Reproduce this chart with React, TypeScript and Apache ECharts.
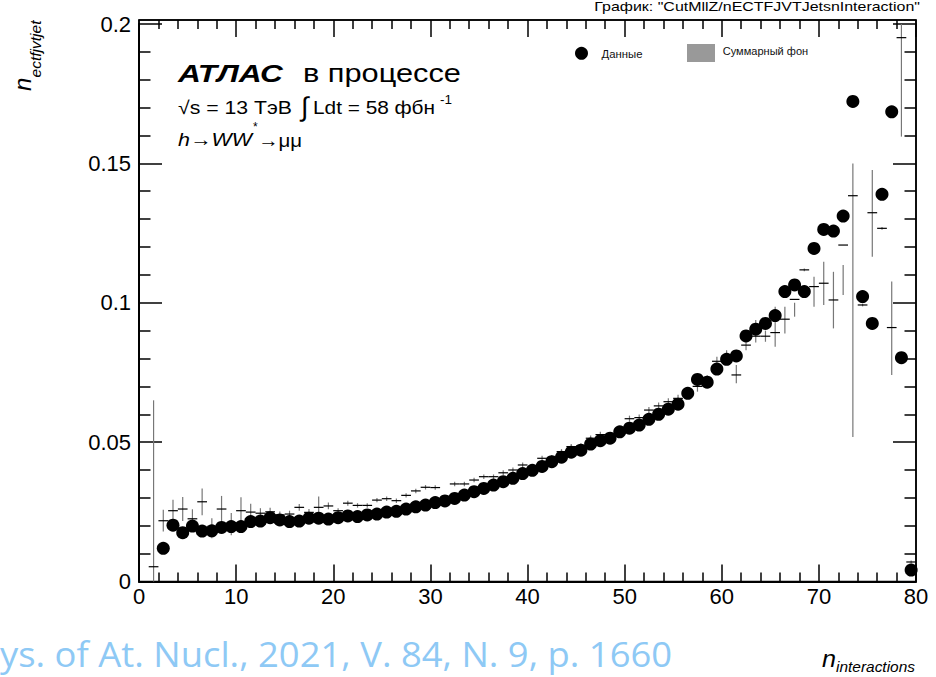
import React, { useEffect, useRef } from "react";
import * as echarts from "echarts";

// Bins: n_interactions from 0 to 80, width 1 (index = lower bin edge)
const X_MIN = 0;
const X_MAX = 80;
const Y_MIN = 0;
const Y_MAX = 0.2;

// Data (black dots)
const dataValues: (number | null)[] = [
  null, null, 0.0119, 0.0202, 0.0175, 0.0199, 0.0181, 0.0182, 0.0194, 0.0197,
  0.0197, 0.0215, 0.0217, 0.0229, 0.0221, 0.0215, 0.0217, 0.0227, 0.0227, 0.0224,
  0.0229, 0.0235, 0.0233, 0.0239, 0.0242, 0.0249, 0.0252, 0.0260, 0.0268, 0.0274,
  0.0283, 0.0289, 0.0298, 0.0310, 0.0322, 0.0334, 0.0346, 0.0358, 0.0370, 0.0387,
  0.0399, 0.0413, 0.0430, 0.0446, 0.0464, 0.0471, 0.0493, 0.0505, 0.0514, 0.0537,
  0.0550, 0.0561, 0.0582, 0.0600, 0.0618, 0.0636, 0.0675, 0.0725, 0.0715, 0.0762,
  0.0797, 0.0809, 0.0881, 0.0905, 0.0926, 0.0954, 0.1040, 0.1064, 0.1040, 0.1195,
  0.1263, 0.1257, 0.1311, 0.1722, 0.1022, 0.0926, 0.1389, 0.1685, 0.0803, 0.0041,
];

// Total background (crosses)
const mcValues: (number | null)[] = [
  null, 0.0053, 0.0218, 0.0254, 0.0260, 0.0225, 0.0286, 0.0191, 0.0260, 0.0206,
  0.0254, 0.0249, 0.0245, 0.0250, 0.0239, 0.0242, 0.0266, 0.0248, 0.0266, 0.0271,
  0.0254, 0.0281, 0.0273, 0.0273, 0.0292, 0.0297, 0.0290, 0.0309, 0.0325, 0.0338,
  0.0337, 0.0300, 0.0350, 0.0350, 0.0364, 0.0376, 0.0376, 0.0390, 0.0400, 0.0418,
  0.0405, 0.0442, 0.0445, 0.0466, 0.0484, 0.0486, 0.0514, 0.0527, 0.0525, 0.0545,
  0.0584, 0.0588, 0.0615, 0.0630, 0.0645, 0.0657, 0.0680, 0.0700, 0.0725, 0.0790,
  0.0810, 0.0741, 0.0848, 0.0880, 0.0880, 0.0893, 0.0941, 0.1012, 0.1118, 0.1058,
  0.1070, 0.1010, 0.1207, 0.1384, 0.0992, 0.1323, 0.1267, 0.0911, 0.1951, 0.0070,
];

// Error bar lower bounds
const mcLow: (number | null)[] = [
  null, 0.0, 0.0179, 0.0215, 0.0217, 0.0191, 0.0238, 0.0155, 0.0213, 0.0166,
  0.0206, 0.0219, 0.0232, 0.0232, 0.0227, 0.0230, 0.0254, 0.0236, 0.0227, 0.0259,
  0.0245, 0.0272, 0.0265, 0.0265, 0.0284, 0.0289, 0.0282, 0.0301, 0.0317, 0.0330,
  0.0329, 0.0292, 0.0342, 0.0342, 0.0356, 0.0368, 0.0368, 0.0381, 0.0391, 0.0409,
  0.0396, 0.0433, 0.0436, 0.0457, 0.0475, 0.0476, 0.0504, 0.0517, 0.0515, 0.0535,
  0.0573, 0.0577, 0.0604, 0.0618, 0.0633, 0.0644, 0.0668, 0.0681, 0.0710, 0.0771,
  0.0795, 0.0711, 0.0830, 0.0857, 0.0860, 0.0842, 0.0890, 0.0950, 0.1113, 0.0986,
  0.0992, 0.0908, 0.1028, 0.0518, 0.0987, 0.1165, 0.1262, 0.0741, 0.1596, 0.0065,
];

// Error bar upper bounds
const mcHigh: (number | null)[] = [
  null, 0.0650, 0.0257, 0.0293, 0.0303, 0.0259, 0.0334, 0.0227, 0.0307, 0.0246,
  0.0302, 0.0279, 0.0263, 0.0265, 0.0251, 0.0254, 0.0278, 0.0260, 0.0305, 0.0283,
  0.0263, 0.0290, 0.0281, 0.0281, 0.0300, 0.0305, 0.0298, 0.0317, 0.0333, 0.0346,
  0.0345, 0.0308, 0.0358, 0.0358, 0.0372, 0.0384, 0.0384, 0.0399, 0.0409, 0.0427,
  0.0414, 0.0451, 0.0454, 0.0475, 0.0493, 0.0496, 0.0524, 0.0537, 0.0535, 0.0555,
  0.0595, 0.0599, 0.0626, 0.0642, 0.0657, 0.0670, 0.0692, 0.0711, 0.0740, 0.0806,
  0.0830, 0.0777, 0.0866, 0.0938, 0.0900, 0.0986, 0.0986, 0.1000, 0.1123, 0.1093,
  0.1147, 0.1111, 0.1135, 0.1500, 0.0997, 0.1476, 0.1272, 0.1076, 0.2100, 0.0075,
];

const TITLE = 'График: "CutMllZ/nECTFJVTJetsnInteraction"';
const LEGEND_DATA = "Данные";
const LEGEND_BG = "Суммарный фон";
const WATERMARK = "ys. of At. Nucl., 2021, V. 84, N. 9, p. 1660";

const SANS = '"Liberation Sans", Arial, Helvetica, sans-serif';

let measureCtx: CanvasRenderingContext2D | null = null;
function measure(text: string, size: number, family: string, style = "normal", weight = "normal") {
  if (!measureCtx) measureCtx = document.createElement("canvas").getContext("2d");
  if (!measureCtx) return text.length * size * 0.55;
  measureCtx.font = `${style} ${weight} ${size}px ${family}`;
  return measureCtx.measureText(text).width;
}

type TxtOpt = {
  text: string;
  x: number;
  baseline: number;
  size: number;
  family?: string;
  style?: string;
  weight?: string;
  width?: number;
  color?: string;
  align?: string;
};

function txt(o: TxtOpt) {
  const family = o.family || SANS;
  const style = o.style || "normal";
  const weight = o.weight || "normal";
  let scaleX = 1;
  if (o.width) scaleX = o.width / measure(o.text, o.size, family, style, weight);
  return {
    type: "text",
    x: o.x,
    y: o.baseline - 0.35 * o.size,
    scaleX,
    z: 100,
    silent: true,
    style: {
      text: o.text,
      fontSize: o.size,
      fontFamily: family,
      fontStyle: style,
      fontWeight: weight,
      fill: o.color || "#000",
      align: o.align || "left",
      verticalAlign: "middle",
    },
  };
}

export default function App() {
  const ref = useRef<HTMLDivElement>(null);

  useEffect(() => {
    if (!ref.current) return;
    const chart = echarts.init(ref.current, null, { renderer: "svg" });

    const dotData: number[][] = [];
    dataValues.forEach((v, i) => {
      if (v !== null) dotData.push([i + 0.5, v]);
    });
    const mcData: number[][] = [];
    mcValues.forEach((v, i) => {
      if (v !== null) mcData.push([i + 0.5, v, mcLow[i] as number, mcHigh[i] as number]);
    });

    const tickStyle = { color: "#000", width: 1.5 };
    const lineStyle = { color: "#000", width: 2 };

    const yLabel = (v: number) => {
      const r = Math.round(v / 0.05);
      if (Math.abs(v - r * 0.05) > 1e-7) return "";
      return String(+(r * 0.05).toFixed(2));
    };

    const option: any = {
      animation: false,
      backgroundColor: "#fff",
      grid: [
        { left: 139, right: 20, top: 24, bottom: 95.5 },
        {
          left: 139,
          right: 20,
          top: 20,
          bottom: 95.5,
          show: true,
          borderColor: "#000",
          borderWidth: 1.5,
          backgroundColor: "rgba(0,0,0,0)",
        },
      ],
      xAxis: [
        {
          type: "value",
          gridIndex: 0,
          position: "bottom",
          min: X_MIN,
          max: X_MAX,
          interval: 10,
          axisLine: { show: true, onZero: false, lineStyle },
          axisTick: { show: true, inside: true, length: 17, lineStyle: tickStyle },
          minorTick: { show: true, splitNumber: 5, length: 9, lineStyle: tickStyle },
          axisLabel: { fontSize: 22, color: "#000", fontFamily: SANS, margin: 4 },
          splitLine: { show: false },
        },
        {
          type: "value",
          gridIndex: 1,
          position: "top",
          min: X_MIN,
          max: X_MAX,
          interval: 10,
          axisLine: { show: true, onZero: false, lineStyle: { color: "#000", width: 1.5 } },
          axisTick: { show: true, inside: true, length: 17, lineStyle: tickStyle },
          minorTick: { show: true, splitNumber: 5, length: 9, lineStyle: tickStyle },
          axisLabel: { show: false },
          splitLine: { show: false },
        },
      ],
      yAxis: [
        {
          type: "value",
          gridIndex: 0,
          position: "left",
          min: Y_MIN,
          max: Y_MAX,
          interval: 0.05,
          axisLine: { show: true, onZero: false, lineStyle },
          axisTick: { show: true, inside: true, length: 23, lineStyle: tickStyle },
          minorTick: { show: true, splitNumber: 5, length: 11.5, lineStyle: tickStyle },
          axisLabel: { fontSize: 22, color: "#000", fontFamily: SANS, margin: 8, formatter: yLabel },
          splitLine: { show: false },
        },
        {
          type: "value",
          gridIndex: 0,
          position: "right",
          min: Y_MIN,
          max: Y_MAX,
          interval: 0.05,
          axisLine: { show: true, onZero: false, lineStyle: { color: "#000", width: 1.5 } },
          axisTick: { show: true, inside: true, length: 23, lineStyle: tickStyle },
          minorTick: { show: true, splitNumber: 5, length: 11.5, lineStyle: tickStyle },
          axisLabel: { show: false },
          splitLine: { show: false },
        },
        { type: "value", gridIndex: 1, show: false, min: 0, max: 1 },
      ],
      series: [
        {
          type: "custom",
          name: LEGEND_BG,
          xAxisIndex: 0,
          yAxisIndex: 0,
          data: mcData,
          encode: { x: 0, y: 1 },
          z: 2,
          renderItem: (params: any, api: any) => {
            const x = api.value(0);
            const v = api.value(1);
            const lo = api.value(2);
            const hi = api.value(3);
            const cs = params.coordSys;
            const top = cs.y;
            const bot = cs.y + cs.height;
            const clampY = (y: number) => Math.max(top, Math.min(bot, y));
            const pL = api.coord([x - 0.5, v]);
            const pR = api.coord([x + 0.5, v]);
            const pLo = api.coord([x, lo]);
            const pHi = api.coord([x, hi]);
            const children: any[] = [
              {
                type: "line",
                shape: { x1: pLo[0], y1: clampY(pLo[1]), x2: pLo[0], y2: clampY(pHi[1]) },
                style: { stroke: "#777", lineWidth: 1.2 },
              },
            ];
            if (pL[1] >= top && pL[1] <= bot) {
              children.push({
                type: "line",
                shape: { x1: pL[0], y1: pL[1], x2: pR[0], y2: pR[1] },
                style: { stroke: "#000", lineWidth: 1.2 },
              });
            }
            return { type: "group", children };
          },
        },
        {
          type: "scatter",
          name: LEGEND_DATA,
          xAxisIndex: 0,
          yAxisIndex: 0,
          data: dotData,
          symbol: "circle",
          symbolSize: 13,
          itemStyle: { color: "#000", opacity: 1 },
          z: 5,
          clip: false,
        },
      ],
      graphic: [
        txt({ text: TITLE, x: 920, baseline: 11, size: 13, width: 326, align: "right" }),
        // ATLAS label
        txt({ text: "АТЛАС", x: 178, baseline: 82, size: 24, style: "italic", weight: "bold", width: 105 }),
        txt({ text: "в процессе", x: 303, baseline: 82, size: 25, width: 158 }),
        txt({ text: "√s = 13 ТэВ", x: 178, baseline: 114, size: 18.5, width: 114 }),
        txt({ text: "∫", x: 301, baseline: 116, size: 27 }),
        txt({ text: "Ldt = 58 фбн", x: 313, baseline: 114, size: 18.5, width: 122 }),
        txt({ text: "-1", x: 440, baseline: 104, size: 12.5, width: 12 }),
        txt({ text: "h→WW", x: 178, baseline: 146.5, size: 18.5, style: "italic", width: 74 }),
        txt({ text: "*", x: 253, baseline: 131, size: 12 }),
        txt({ text: "→μμ", x: 258, baseline: 146.5, size: 18.5, width: 44 }),
        // legend
        {
          type: "circle",
          shape: { cx: 581.5, cy: 53.3, r: 6.5 },
          style: { fill: "#000" },
          z: 100,
          silent: true,
        },
        txt({ text: LEGEND_DATA, x: 601.5, baseline: 57.5, size: 10, width: 41, color: "#111" }),
        {
          type: "rect",
          shape: { x: 687, y: 44, width: 28, height: 18 },
          style: { fill: "#999" },
          z: 100,
          silent: true,
        },
        txt({ text: LEGEND_BG, x: 722.7, baseline: 55.2, size: 10, width: 85.6, color: "#111" }),
        // x axis title
        txt({ text: "n", x: 822, baseline: 667, size: 24, style: "italic", width: 14 }),
        txt({ text: "interactions", x: 836, baseline: 672, size: 15.5, style: "italic", width: 79 }),
        // y axis title (rotated)
        {
          type: "group",
          x: 36,
          y: 91,
          rotation: Math.PI / 2,
          silent: true,
          children: [
            txt({ text: "n", x: 0, baseline: -5, size: 24, style: "italic" }),
            txt({ text: "ectfjvtjet", x: 13.5, baseline: 4.8, size: 15, style: "italic", width: 57 }),
          ],
        },
        // watermark
        txt({
          text: WATERMARK,
          x: 0,
          baseline: 665,
          size: 34,
          family: '"Open Sans", sans-serif',
          width: 672,
          color: "#8ec9f5",
        }),
      ],
    };

    chart.setOption(option);
    return () => chart.dispose();
  }, []);

  return (
    <div
      ref={ref}
      style={{ position: "fixed", left: 0, top: 0, width: 936, height: 677, background: "#fff" }}
    />
  );
}
